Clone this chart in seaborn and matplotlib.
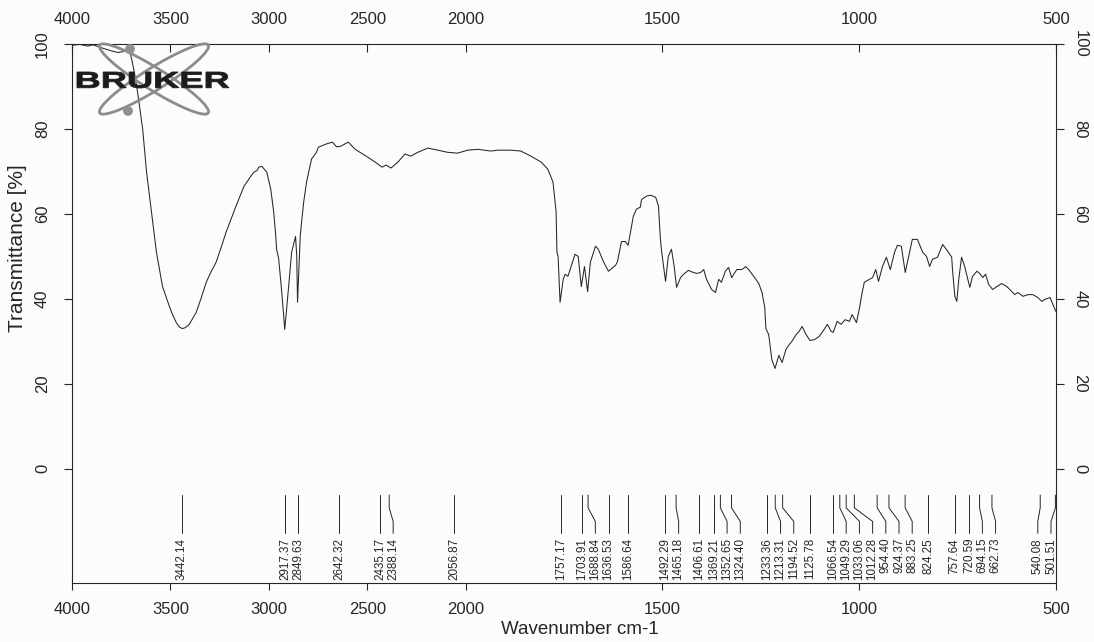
import numpy as np
import pandas as pd
import matplotlib
matplotlib.use("Agg")
import matplotlib.pyplot as plt
import seaborn as sns
from matplotlib.patches import Ellipse, Circle, PathPatch
from matplotlib.textpath import TextPath
from matplotlib.font_manager import FontProperties
from matplotlib.transforms import Affine2D

# ---- spectrum (wavenumber in cm-1, transmittance in %) ----
wavenumber = [
    4000, 3960, 3920, 3894, 3860, 3843, 3815, 3793, 3765, 3742, 3720, 3705, 3697,
    3680, 3667, 3641, 3621, 3596, 3571, 3540, 3505, 3490, 3470, 3455, 3440, 3425,
    3404, 3390, 3369, 3345, 3318, 3295, 3268, 3240, 3217, 3190, 3167, 3126, 3091,
    3076, 3060, 3051, 3035, 3010, 2990, 2975, 2965,
    2960, 2950, 2934, 2919, 2899, 2884, 2864, 2858, 2854, 2840, 2823, 2808, 2783,
    2758, 2748, 2712, 2677, 2656, 2636, 2596, 2561, 2530, 2495, 2460, 2424, 2404,
    2379, 2344, 2308, 2278, 2243, 2192, 2142, 2091, 2040, 1995, 1969, 1936, 1918,
    1885, 1860, 1834, 1808, 1791, 1778, 1770, 1768, 1765, 1760, 1752, 1747, 1740,
    1732, 1722, 1714, 1706, 1698, 1690, 1683, 1670, 1663, 1650, 1637, 1619, 1614,
    1604, 1594, 1587, 1574, 1566, 1556, 1553, 1540, 1530, 1517, 1510, 1505, 1502,
    1492, 1485, 1477, 1470, 1464, 1454, 1446, 1434, 1421, 1413, 1403, 1395, 1388,
    1375, 1365, 1357, 1350, 1340, 1332, 1324, 1311, 1298, 1288, 1281, 1268, 1255,
    1247, 1240, 1237, 1230, 1222, 1214, 1204, 1196, 1186, 1178, 1171, 1160, 1153,
    1145, 1135, 1125, 1114, 1102, 1089, 1081, 1071, 1066, 1056, 1046, 1036, 1025,
    1018, 1007, 1000, 992, 987, 974, 966, 958, 951, 941, 931, 921, 910, 903, 893,
    883, 872, 865, 852, 839, 829, 821, 814, 801, 788, 775, 765, 763, 757, 752, 747,
    740, 732, 719, 712, 701, 694, 686, 679, 671, 661, 650, 638, 625, 612, 605, 597,
    584, 571, 559, 546, 536, 528, 515, 508, 500,
]
transmittance = [
    99.7, 99.9, 99.5, 99.8, 99.3, 99.0, 98.6, 98.3, 98.0, 98.2, 98.6, 98.0, 96.5,
    92.5, 88.7, 80.0, 69.8, 60.4, 51.0, 42.9, 38.2, 36.4, 34.4, 33.4, 33.0, 33.2,
    34.0, 35.1, 36.8, 40.0, 43.9, 46.2, 48.6, 52.4, 55.7, 59.0, 61.8, 66.5, 68.9,
    69.8, 70.2, 71.0, 71.2, 69.8, 65.8, 60.4, 55.0,
    51.6, 49.5, 41.5, 32.8, 43.0, 51.0, 54.7, 50.0, 39.2, 55.0, 62.7, 67.5, 72.9,
    74.5, 75.7, 76.4, 76.9, 75.8, 75.9, 76.9, 75.2, 74.3, 73.3, 72.2, 71.0, 71.5,
    70.8, 72.2, 74.1, 73.6, 74.5, 75.5, 75.0, 74.5, 74.3, 75.0, 75.2, 74.8, 75.0,
    75.0, 74.8, 73.6, 72.2, 70.5, 67.5, 60.4, 51.0, 50.0, 39.2, 44.6, 45.8, 45.3,
    47.6, 50.5, 50.0, 42.9, 47.6, 41.7, 48.6, 52.4, 51.7, 48.8, 46.5, 47.9, 48.8,
    53.5, 53.5, 52.6, 59.4, 61.1, 61.6, 63.4, 64.2, 64.4, 63.9, 61.8, 54.0, 51.2,
    44.1, 50.0, 51.7, 47.6, 42.7, 45.0, 45.8, 46.7, 46.2, 46.0, 46.2, 46.9, 44.6,
    42.2, 41.5, 44.6, 43.9, 46.5, 47.4, 45.0, 46.9, 46.9, 47.6, 46.9, 45.3, 43.6,
    41.5, 38.0, 33.0, 31.6, 25.7, 23.6, 26.7, 25.0, 28.1, 29.2, 30.0, 31.6, 32.3,
    33.5, 31.6, 30.2, 30.4, 31.1, 32.8, 34.0, 32.3, 32.1, 34.7, 34.0, 35.1, 34.7,
    36.3, 34.4, 37.5, 41.7, 43.9, 44.6, 45.0, 46.9, 44.1, 47.6, 49.8, 46.9, 51.0,
    52.6, 52.4, 46.2, 51.0, 54.0, 54.0, 51.0, 50.0, 47.6, 49.3, 49.8, 52.8, 51.2,
    49.8, 46.9, 40.6, 39.4, 44.6, 49.8, 47.6, 42.7, 45.3, 46.5, 46.0, 45.0, 45.8,
    43.4, 42.2, 42.9, 43.6, 42.9, 41.7, 41.0, 41.5, 40.6, 41.0, 41.0, 40.3, 39.4,
    39.9, 40.3, 38.7, 37.0,
]

# picked peak positions (cm-1)
peak_positions = [
    3442.14, 2917.37, 2849.63, 2642.32, 2435.17, 2388.14, 2056.87, 1757.17,
    1703.91, 1688.84, 1636.53, 1586.64, 1492.29, 1465.18, 1406.61, 1369.21,
    1352.65, 1324.40, 1233.36, 1213.31, 1194.52, 1125.78, 1066.54, 1049.29,
    1033.06, 1012.28, 954.40, 924.37, 883.25, 824.25, 757.64, 720.59, 694.15,
    662.73, 540.08, 501.51,
]

x_ticks = [4000, 3500, 3000, 2500, 2000, 1500, 1000, 500]
y_ticks = [0, 20, 40, 60, 80, 100]

PAPER = "#fbfcfd"
INK = "#262626"

sns.set_theme(style="ticks")
plt.rcParams["font.family"] = ["Liberation Sans", "DejaVu Sans"]
plt.rcParams["axes.linewidth"] = 0.8

W, H = 1094, 642
fig = plt.figure(figsize=(W / 100, H / 100), dpi=100, facecolor=PAPER)

# main frame in pixel placement: left 72, right 1056, top 44, bottom 583
ax = fig.add_axes([72 / W, 1 - 583 / H, (1056 - 72) / W, (583 - 44) / H])
ax.set_facecolor(PAPER)

df = pd.DataFrame({"wn": wavenumber, "T": transmittance})
sns.lineplot(data=df, x="wn", y="T", sort=False, estimator=None, ax=ax,
             color=INK, linewidth=0.75)


# x axis is compressed 2:1 above 2000 cm-1 (standard IR layout)
def fwd(w):
    w = np.asarray(w, dtype=float)
    return np.where(w > 2000, 2000 + (w - 2000) / 2, w)


def inv(u):
    u = np.asarray(u, dtype=float)
    return np.where(u > 2000, 2000 + (u - 2000) * 2, u)


ax.set_xscale("function", functions=(fwd, inv))
ax.set_xlim(4000, 500)
ax.set_ylim(-26.9, 100)
ax.set_xlabel("")
ax.set_ylabel("")

for s in ax.spines.values():
    s.set_color(INK)
    s.set_linewidth(0.8)

ax.set_xticks(x_ticks)
ax.set_xticklabels([str(t) for t in x_ticks])
ax.tick_params(axis="x", direction="out", length=5, width=0.8, pad=8.6,
               labelsize=12, colors=INK)
ax.set_yticks(y_ticks)
ax.set_yticklabels([str(t) for t in y_ticks], rotation=90, va="center")
ax.tick_params(axis="y", direction="out", length=5.8, width=0.8, pad=10,
               labelsize=12, colors=INK)
ax.xaxis.set_minor_locator(matplotlib.ticker.NullLocator())

# top scale (ticks pointing inward)
ax_top = ax.twiny()
ax_top.set_xscale("function", functions=(fwd, inv))
ax_top.set_xlim(4000, 500)
ax_top.set_xticks(x_ticks)
ax_top.set_xticklabels([str(t) for t in x_ticks])
ax_top.xaxis.set_minor_locator(matplotlib.ticker.NullLocator())
ax_top.tick_params(axis="x", direction="in", length=6, width=0.8, pad=12,
                   labelsize=12, colors=INK)
for s in ax_top.spines.values():
    s.set_visible(False)

# right scale
ax_r = ax.twinx()
ax_r.set_ylim(-26.9, 100)
ax_r.set_yticks(y_ticks)
ax_r.set_yticklabels([str(t) for t in y_ticks], rotation=-90, va="center")
ax_r.tick_params(axis="y", direction="out", length=5.8, width=0.8, pad=6,
                 labelsize=12, colors=INK)
for s in ax_r.spines.values():
    s.set_visible(False)

# ---- peak annotation: leader lines with labels spread apart ----
peaks = np.array(peak_positions)
px = ax.transData.transform(np.column_stack([peaks, np.zeros_like(peaks)]))[:, 0]
order = np.argsort(px)
gap = 13.2
lx = px[order].copy()
for i in range(1, len(lx)):
    lx[i] = max(lx[i], lx[i - 1] + gap)
right_lim = ax.bbox.x1 - 5
if lx[-1] > right_lim:
    lx[-1] = right_lim
    for i in range(len(lx) - 2, -1, -1):
        lx[i] = min(lx[i], lx[i + 1] - gap)
label_x_disp = np.empty_like(lx)
label_x_disp[order] = lx
label_wn = ax.transData.inverted().transform(
    np.column_stack([label_x_disp, np.zeros_like(label_x_disp)]))[:, 0]

y0, y1, y2, y3, ytxt = -6.2, -9.2, -12.4, -15.2, -16.3
for p, lw_, dx in zip(peaks, label_wn, label_x_disp - px):
    if abs(dx) < 1.5:
        ax.plot([p, p], [y0, y3], color=INK, lw=0.7)
        tx = p
    else:
        ax.plot([p, p, lw_, lw_], [y0, y1, y2, y3], color=INK, lw=0.7)
        tx = lw_
    ax.text(tx, ytxt, f"{p:.2f}", rotation=90, ha="center", va="top",
            fontsize=8.4, color=INK)

# axis titles
fig.text(580 / W, 1 - 630 / H, "Wavenumber cm-1", ha="center", va="center",
         fontsize=13.5, color=INK)
fig.text(18 / W, 1 - 248 / H, "Transmittance [%]", ha="center", va="center",
         rotation=90, fontsize=15, color=INK)

# ---- instrument logo (pixel-space overlay) ----
lg = fig.add_axes([0, 0, 1, 1], facecolor="none")
lg.set_xlim(0, W)
lg.set_ylim(0, H)
lg.axis("off")
cx, cy = 154, H - 79
for ang in (32, -32):
    lg.add_patch(Ellipse((cx, cy), width=128, height=22, angle=ang, fill=False,
                         ec="#8c8c8c", lw=2.0))
lg.add_patch(Circle((130, H - 49), 4.2, color="#909090"))
lg.add_patch(Circle((128, H - 111), 4.2, color="#909090"))
tp = TextPath((0, 0), "BRUKER", size=1,
              prop=FontProperties(family="Liberation Sans", weight="bold"))
bb = tp.get_extents()
tr = (Affine2D().translate(-bb.x0, -bb.y0)
      .scale(152 / bb.width, 16 / bb.height)
      .translate(77, H - 88))
lg.add_patch(PathPatch(tr.transform_path(tp), fc="#1c1c1c", ec="#1c1c1c",
                       lw=0.6))

fig.savefig("out.png", dpi=100, facecolor=PAPER)
